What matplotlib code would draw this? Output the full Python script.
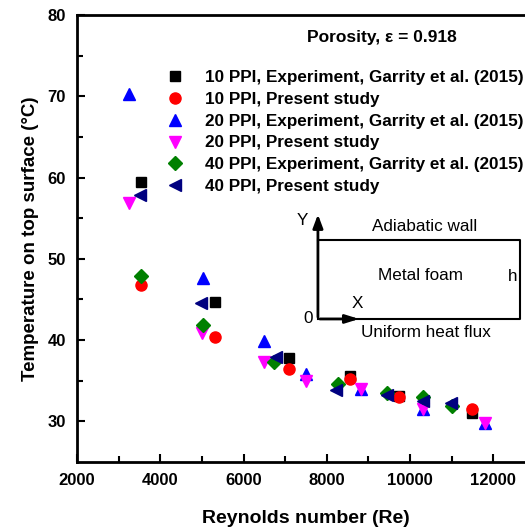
import numpy as np
import matplotlib.pyplot as plt

plt.rcParams['font.family'] = ['Liberation Sans', 'DejaVu Sans']

# 10 PPI
re_10_exp = [3540, 5310, 7080, 8550, 9740, 11490]
t_10_exp = [59.4, 44.7, 37.8, 35.6, 33.1, 31.0]
re_10_sim = [3540, 5310, 7080, 8550, 9740, 11490]
t_10_sim = [46.8, 40.4, 36.5, 35.2, 33.0, 31.5]

# 20 PPI
re_20_exp = [3240, 5030, 6500, 7500, 8830, 10320, 11810]
t_20_exp = [70.3, 47.6, 39.9, 35.8, 34.0, 31.5, 29.8]
re_20_sim = [3250, 5000, 6490, 7500, 8830, 10320, 11810]
t_20_sim = [56.9, 40.9, 37.3, 35.0, 34.0, 31.5, 29.8]

# 40 PPI
re_40_exp = [3545, 5030, 6740, 8270, 9440, 10320, 11010]
t_40_exp = [47.9, 41.9, 37.3, 34.6, 33.5, 33.0, 31.9]
re_40_sim = [3520, 4970, 6780, 8230, 9440, 10300, 10970]
t_40_sim = [57.8, 44.6, 37.9, 33.9, 33.3, 32.5, 32.3]

labels = ['10 PPI, Experiment, Garrity et al. (2015)',
          '10 PPI, Present study',
          '20 PPI, Experiment, Garrity et al. (2015)',
          '20 PPI, Present study',
          '40 PPI, Experiment, Garrity et al. (2015)',
          '40 PPI, Present study']

fig = plt.figure(figsize=(5.25, 5.30), dpi=100)
ax = fig.add_axes([0.1467, 0.1283, 0.8724, 0.8434])

ax.plot(re_10_exp, t_10_exp, 's', color='black', ms=7, label=labels[0])
ax.plot(re_10_sim, t_10_sim, 'o', color='red', ms=8, label=labels[1])
ax.plot(re_20_exp, t_20_exp, '^', color='blue', ms=8.5, label=labels[2])
ax.plot(re_20_sim, t_20_sim, 'v', color='magenta', ms=8.5, label=labels[3])
ax.plot(re_40_exp, t_40_exp, 'D', color='green', ms=7, label=labels[4])
ax.plot(re_40_sim, t_40_sim, '<', color='navy', ms=8.5, label=labels[5])

ax.set_xlim(2000, 13000)
ax.set_ylim(25, 80)
ax.set_xticks(np.arange(2000, 12001, 2000))
ax.set_xticks(np.arange(3000, 13000, 2000), minor=True)
ax.set_yticks(np.arange(30, 81, 10))
ax.set_yticks(np.arange(35, 80, 10), minor=True)
ax.tick_params(which='both', direction='in', width=1.5, top=False, right=False)
ax.tick_params(which='major', length=6, labelsize=12, pad=8)
ax.tick_params(which='minor', length=4)
for lab in ax.get_xticklabels() + ax.get_yticklabels():
    lab.set_fontweight('bold')
for s in ax.spines.values():
    s.set_linewidth(2)

ax.set_xlabel('Reynolds number (Re)', fontsize=14, fontweight='bold', labelpad=16)
ax.set_ylabel('Temperature on top surface (°C)', fontsize=13.5, fontweight='bold', labelpad=6)

ax.text(0.665, 0.95, 'Porosity, ε = 0.918', transform=ax.transAxes,
        ha='center', va='center', fontsize=12.5, fontweight='bold')

leg = ax.legend(loc='upper left', bbox_to_anchor=(0.195, 0.877), frameon=False,
                prop={'size': 12.3, 'weight': 'bold'}, handletextpad=1.26,
                labelspacing=0.4, borderaxespad=0, borderpad=0, handlelength=1.0)

# schematic of the metal foam channel
tr = ax.transAxes
ax.plot([0.526, 0.967, 0.967, 0.526], [0.497, 0.497, 0.320, 0.320],
        color='black', lw=1.5, transform=tr)
ax.annotate('', xy=(0.526, 0.560), xytext=(0.526, 0.318), xycoords=tr,
            arrowprops=dict(arrowstyle='-|>,head_length=0.8,head_width=0.3',
                            color='black', lw=2))
ax.annotate('', xy=(0.622, 0.320), xytext=(0.524, 0.320), xycoords=tr,
            arrowprops=dict(arrowstyle='-|>,head_length=0.8,head_width=0.25',
                            color='black', lw=2))
fs = 12.3
ax.text(0.493, 0.540, 'Y', transform=tr, ha='center', va='center', fontsize=fs)
ax.text(0.612, 0.355, 'X', transform=tr, ha='center', va='center', fontsize=fs)
ax.text(0.505, 0.322, '0', transform=tr, ha='center', va='center', fontsize=fs)
ax.text(0.760, 0.526, 'Adiabatic wall', transform=tr, ha='center', va='center', fontsize=fs)
ax.text(0.749, 0.418, 'Metal foam', transform=tr, ha='center', va='center', fontsize=fs)
ax.text(0.952, 0.414, 'h', transform=tr, ha='center', va='center', fontsize=fs)
ax.text(0.762, 0.290, 'Uniform heat flux', transform=tr, ha='center', va='center', fontsize=fs)

fig.savefig('out.png', dpi=100)
